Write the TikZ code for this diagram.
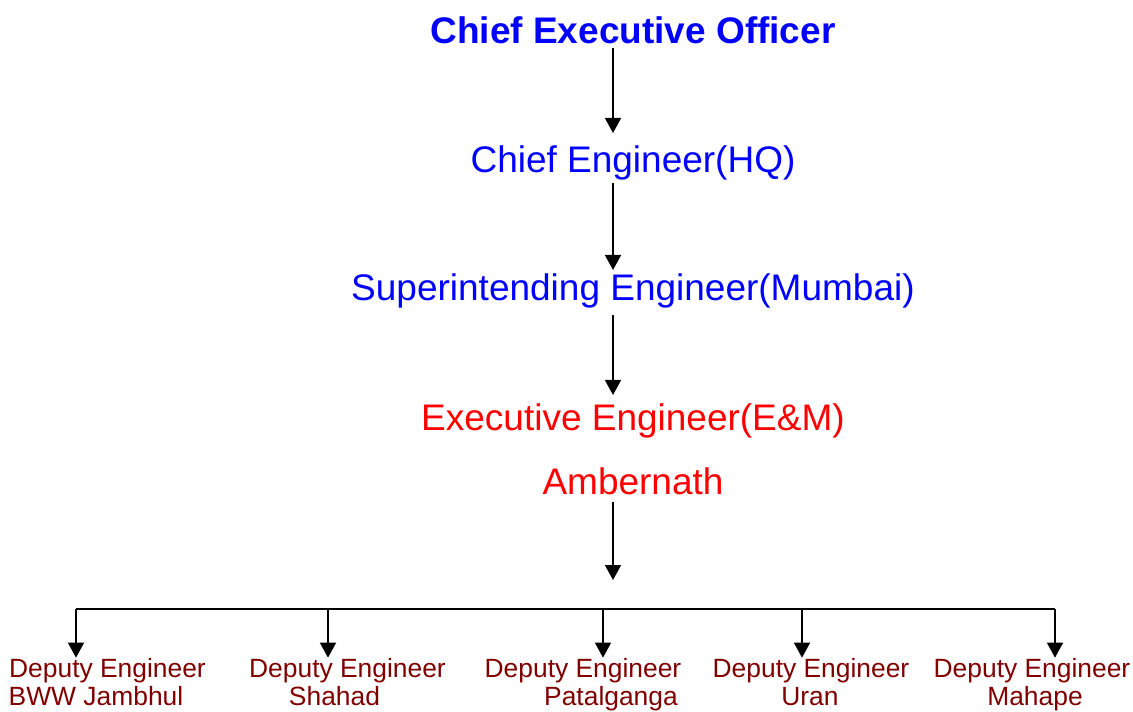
\documentclass[tikz,border=0pt]{standalone}
\usepackage{fontspec}
\setmainfont{Liberation Sans}
\usetikzlibrary{arrows.meta}
\definecolor{topblue}{RGB}{0,0,255}
\definecolor{midred}{RGB}{255,0,0}
\definecolor{deepred}{RGB}{128,0,0}
\tikzset{
  lbl/.style={inner sep=0pt, anchor=base, font=\fontsize{37}{44}\selectfont},
  sub/.style={inner sep=0pt, anchor=base, text=deepred, font=\fontsize{26.4}{28}\selectfont},
  arr/.style={draw=black, line width=1.5pt, -{Triangle[length=15pt,width=16pt]}},
  bus/.style={draw=black, line width=1.5pt}
}
\begin{document}
\begin{tikzpicture}[x=1pt,y=-1pt]
\useasboundingbox (0,0) rectangle (1133,712);
\coordinate (spine) at (613,0);
% main chain
\node[lbl, text=topblue, font=\fontsize{37}{44}\selectfont\bfseries] (ceo) at (633,43) {Chief Executive Officer};
\node[lbl, text=topblue] (ce) at (633,172) {Chief Engineer(HQ)};
\node[lbl, text=topblue] (si) at (633,300) {Superintending Engineer(Mumbai)};
\node[lbl, text=midred] (ee) at (633,430) {Executive Engineer(E\&M)};
\node[lbl, text=midred] (amb) at (633,494) {Ambernath};
\coordinate (hub) at (613,580);
\draw[arr, shorten <=4pt, shorten >=12pt] (ceo.south -| spine) -- (ce.north -| spine);
\draw[arr, shorten <=3pt, shorten >=3pt] (ce.south -| spine) -- (si.north -| spine);
\draw[arr, shorten <=7pt, shorten >=8pt] (si.south -| spine) -- (ee.north -| spine);
\draw[arr, shorten <=7pt] (amb.south -| spine) -- (hub);
% deputies
\node[sub] (da1) at (107.5,677) {Deputy Engineer};
\node[sub] (db1) at (96,705) {BWW Jambhul};
\node[sub] (da2) at (347.5,677) {Deputy Engineer};
\node[sub] (db2) at (334.5,705) {Shahad};
\node[sub] (da3) at (583,677) {Deputy Engineer};
\node[sub] (db3) at (611,705) {Patalganga};
\node[sub] (da4) at (811,677) {Deputy Engineer};
\node[sub] (db4) at (810,705) {Uran};
\node[sub] (da5) at (1032,677) {Deputy Engineer};
\node[sub] (db5) at (1035,705) {Mahape};
\coordinate (b1) at (76,609);
\coordinate (b2) at (328,609);
\coordinate (b3) at (603,609);
\coordinate (b4) at (802,609);
\coordinate (b5) at (1055,609);
\draw[bus] (b1) -- (b5);
\foreach \i in {1,...,5}{
  \draw[arr] (b\i) -- (b\i |- da\i.north);
}
\end{tikzpicture}
\end{document}
